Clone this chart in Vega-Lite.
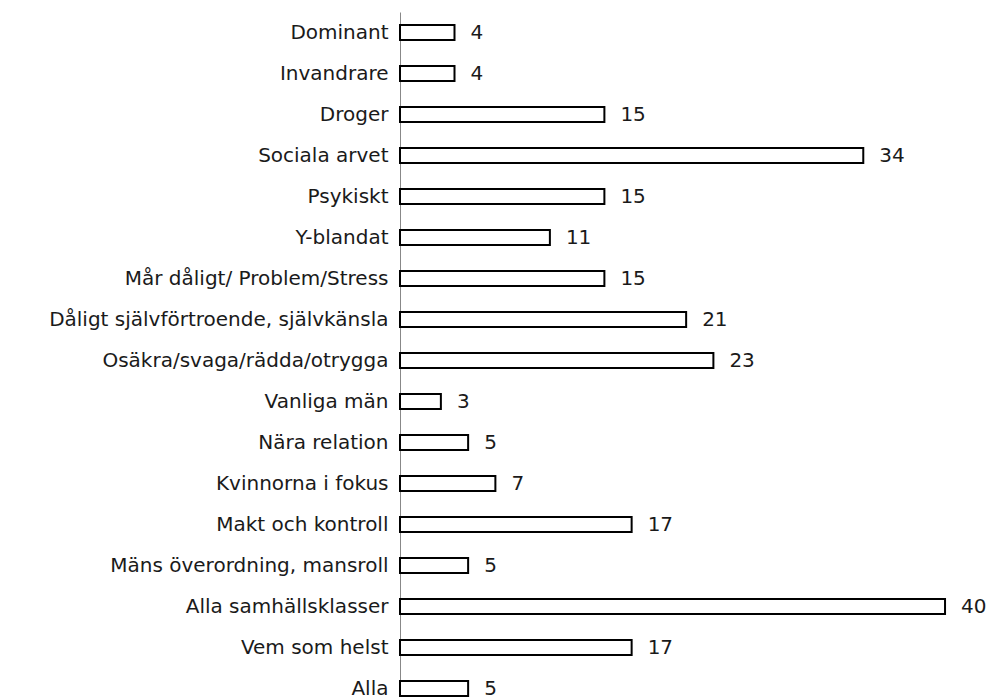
{
  "$schema": "https://vega.github.io/schema/vega-lite/v6.json",
  "autosize": "none",
  "width": 587,
  "height": 697,
  "padding": {"left": 400, "top": 12, "right": 0, "bottom": 0},
  "background": "white",
  "config": {"view": {"stroke": null}, "font": "DejaVu Sans"},
  "data": {"values": [
    {"cat": "Dominant", "v": 4},
    {"cat": "Invandrare", "v": 4},
    {"cat": "Droger", "v": 15},
    {"cat": "Sociala arvet", "v": 34},
    {"cat": "Psykiskt", "v": 15},
    {"cat": "Y-blandat", "v": 11},
    {"cat": "Mår dåligt/ Problem/Stress", "v": 15},
    {"cat": "Dåligt självförtroende, självkänsla", "v": 21},
    {"cat": "Osäkra/svaga/rädda/otrygga", "v": 23},
    {"cat": "Vanliga män", "v": 3},
    {"cat": "Nära relation", "v": 5},
    {"cat": "Kvinnorna i fokus", "v": 7},
    {"cat": "Makt och kontroll", "v": 17},
    {"cat": "Mäns överordning, mansroll", "v": 5},
    {"cat": "Alla samhällsklasser", "v": 40},
    {"cat": "Vem som helst", "v": 17},
    {"cat": "Alla", "v": 5}
  ]},
  "encoding": {
    "y": {"field": "cat", "type": "nominal", "sort": null,
      "scale": {"paddingInner": 0.634, "paddingOuter": 0.317},
      "axis": {"title": null, "ticks": false, "domainColor": "#888888", "domainWidth": 1,
        "labelFontSize": 20, "labelColor": "#1a1a1a", "labelPadding": 12, "labelFont": "DejaVu Sans", "labelLimit": 0}},
    "x": {"field": "v", "type": "quantitative",
      "scale": {"domain": [0, 43.08], "nice": false, "zero": true},
      "axis": null}
  },
  "layer": [
    {"mark": {"type": "bar", "fill": "white", "stroke": "black", "strokeWidth": 2}},
    {"mark": {"type": "text", "align": "left", "dx": 16, "fontSize": 20, "color": "#1a1a1a", "font": "DejaVu Sans", "clip": false},
     "encoding": {"text": {"field": "v", "type": "quantitative"}}}
  ]
}
